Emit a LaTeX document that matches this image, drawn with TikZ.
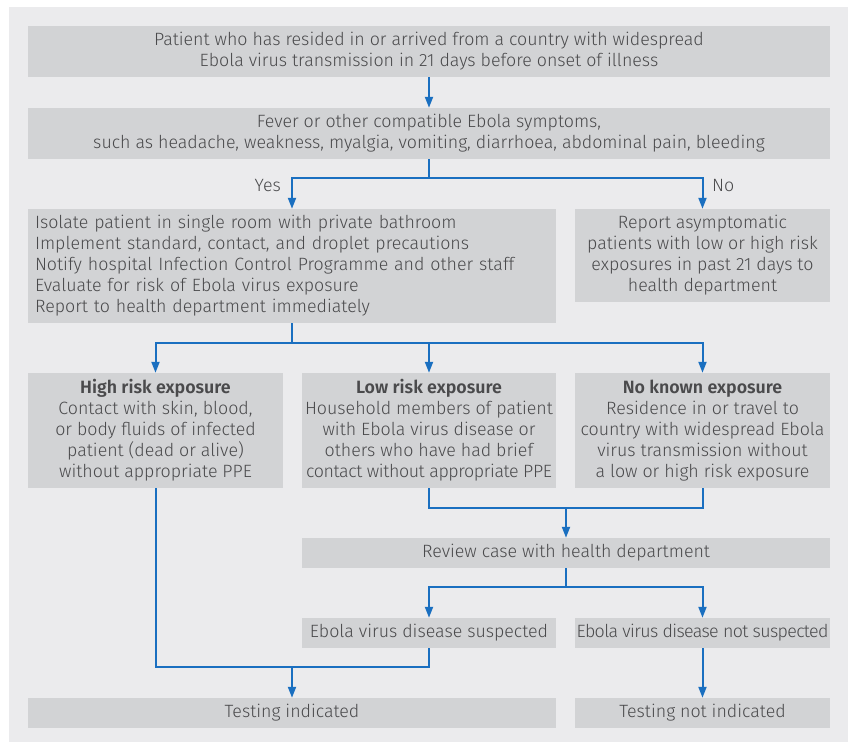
\documentclass[tikz,border=0pt]{standalone}
\usepackage{fontspec}
\IfFontExistsTF{Fira Sans Light}{%
  \IfFontExistsTF{Fira Sans SemiBold}{%
    \setmainfont{Fira Sans Light}[BoldFont={Fira Sans SemiBold}]}{%
    \setmainfont{Fira Sans Light}}}{%
  \setmainfont{Fira Sans}}
\usetikzlibrary{arrows.meta}
\definecolor{panel}{HTML}{EBEBED}
\definecolor{boxfill}{HTML}{D2D3D5}
\definecolor{arrblue}{HTML}{1A6FC0}
\definecolor{txt}{HTML}{4A4A4C}
\newcommand{\tightA}[1]{{\addfontfeature{LetterSpace=-3.6}#1}}
\newcommand{\tightB}[1]{{\addfontfeature{LetterSpace=-2.2}#1}}
\tikzset{
  box/.style={fill=boxfill, draw=none, inner sep=0pt, align=center, text=txt,
    font=\fontsize{17.8}{21}\selectfont},
  conn/.style={draw=arrblue, line width=2pt},
  arr/.style={conn, -{Triangle[width=8pt,length=11pt]}},
  lbl/.style={text=txt, font=\fontsize{17.8}{21}\selectfont, inner sep=0pt}
}
\begin{document}
\begin{tikzpicture}[x=1pt,y=-1pt]
\fill[white] (0,0) rectangle (851,742);
\fill[panel] (9,7) rectangle (848,742);
\useasboundingbox (0,0) rectangle (851,742);

\node[box, minimum width=802pt, minimum height=51pt] (b1) at (429,51.5)
  {Patient who has resided in or arrived from a country with widespread\\Ebola virus transmission in 21 days before onset of illness};
\node[box, minimum width=802pt, minimum height=51pt] (b2) at (429,133.5)
  {Fever or other compatible Ebola symptoms,\\such as headache, weakness, myalgia, vomiting, diarrhoea, abdominal pain, bleeding};
\node[box, minimum width=528pt, minimum height=114pt, text width=514pt, align=left] (b3) at (292,266)
  {Isolate patient in single room with private bathroom\\Implement standard, contact, and droplet precautions\\Notify hospital Infection Control Programme and other staff\\Evaluate for risk of Ebola virus exposure\\Report to health department immediately};
\node[box, minimum width=255pt, minimum height=93pt] (b4) at (702.5,255.5)
  {Report asymptomatic\\patients with low or high risk\\exposures in past 21 days to\\health department};
\node[box, minimum width=255pt, minimum height=115pt] (b5) at (155.5,430.5)
  {\textbf{High risk exposure}\\Contact with skin, blood,\\or body fluids of infected\\patient (dead or alive)\\without appropriate PPE};
\node[box, minimum width=254pt, minimum height=115pt] (b6) at (429,430.5)
  {\textbf{Low risk exposure}\\Household members of patient\\with Ebola virus disease or\\others who have had brief\\\tightB{contact without appropriate PPE}};
\node[box, minimum width=255pt, minimum height=115pt] (b7) at (702.5,430.5)
  {\textbf{No known exposure}\\Residence in or travel to\\country with widespread Ebola\\virus transmission without\\a low or high risk exposure};
\node[box, minimum width=528pt, minimum height=30pt] (b8) at (566,553)
  {Review case with health department};
\node[box, minimum width=254pt, minimum height=30pt] (b9) at (429,633)
  {Ebola virus disease suspected};
\node[box, minimum width=255pt, minimum height=30pt] (b10) at (702.5,633)
  {\tightA{Ebola virus disease not suspected}};
\node[box, minimum width=528pt, minimum height=30pt] (b11) at (292,713)
  {Testing indicated};
\node[box, minimum width=255pt, minimum height=30pt] (b12) at (702.5,713)
  {Testing not indicated};

% connectors
\draw[arr] (b1.south) -- (b2.north);

\coordinate (j1) at (429,177.5);
\draw[conn] (b2.south) -- (j1);
\draw[arr] (j1) -| (b3.north);
\draw[arr] (j1) -| (b4.north);
\node[lbl, anchor=east] (yes) at (281,185) {Yes};
\node[lbl, anchor=west] (no) at (712,185) {No};

\coordinate (j2) at (292,343);
\draw[conn] (b3.south) -- (j2);
\draw[arr] (j2) -| (b5.north);
\draw[arr] (j2) -| (b6.north);
\draw[arr] (j2) -| (b7.north);

\coordinate (j3) at (566,508);
\draw[conn] (b6.south) |- (j3) -| (b7.south);
\draw[arr] (j3) -- (b8.north);

\coordinate (j4) at (566,587);
\draw[conn] (b8.south) -- (j4);
\draw[arr] (j4) -| (b9.north);
\draw[arr] (j4) -| (b10.north);

\coordinate (j5) at (292,667);
\draw[conn] (b5.south) |- (j5) -| (b9.south);
\draw[arr] (j5) -- (b11.north);
\draw[arr] (b10.south) -- (b12.north);
\end{tikzpicture}
\end{document}
